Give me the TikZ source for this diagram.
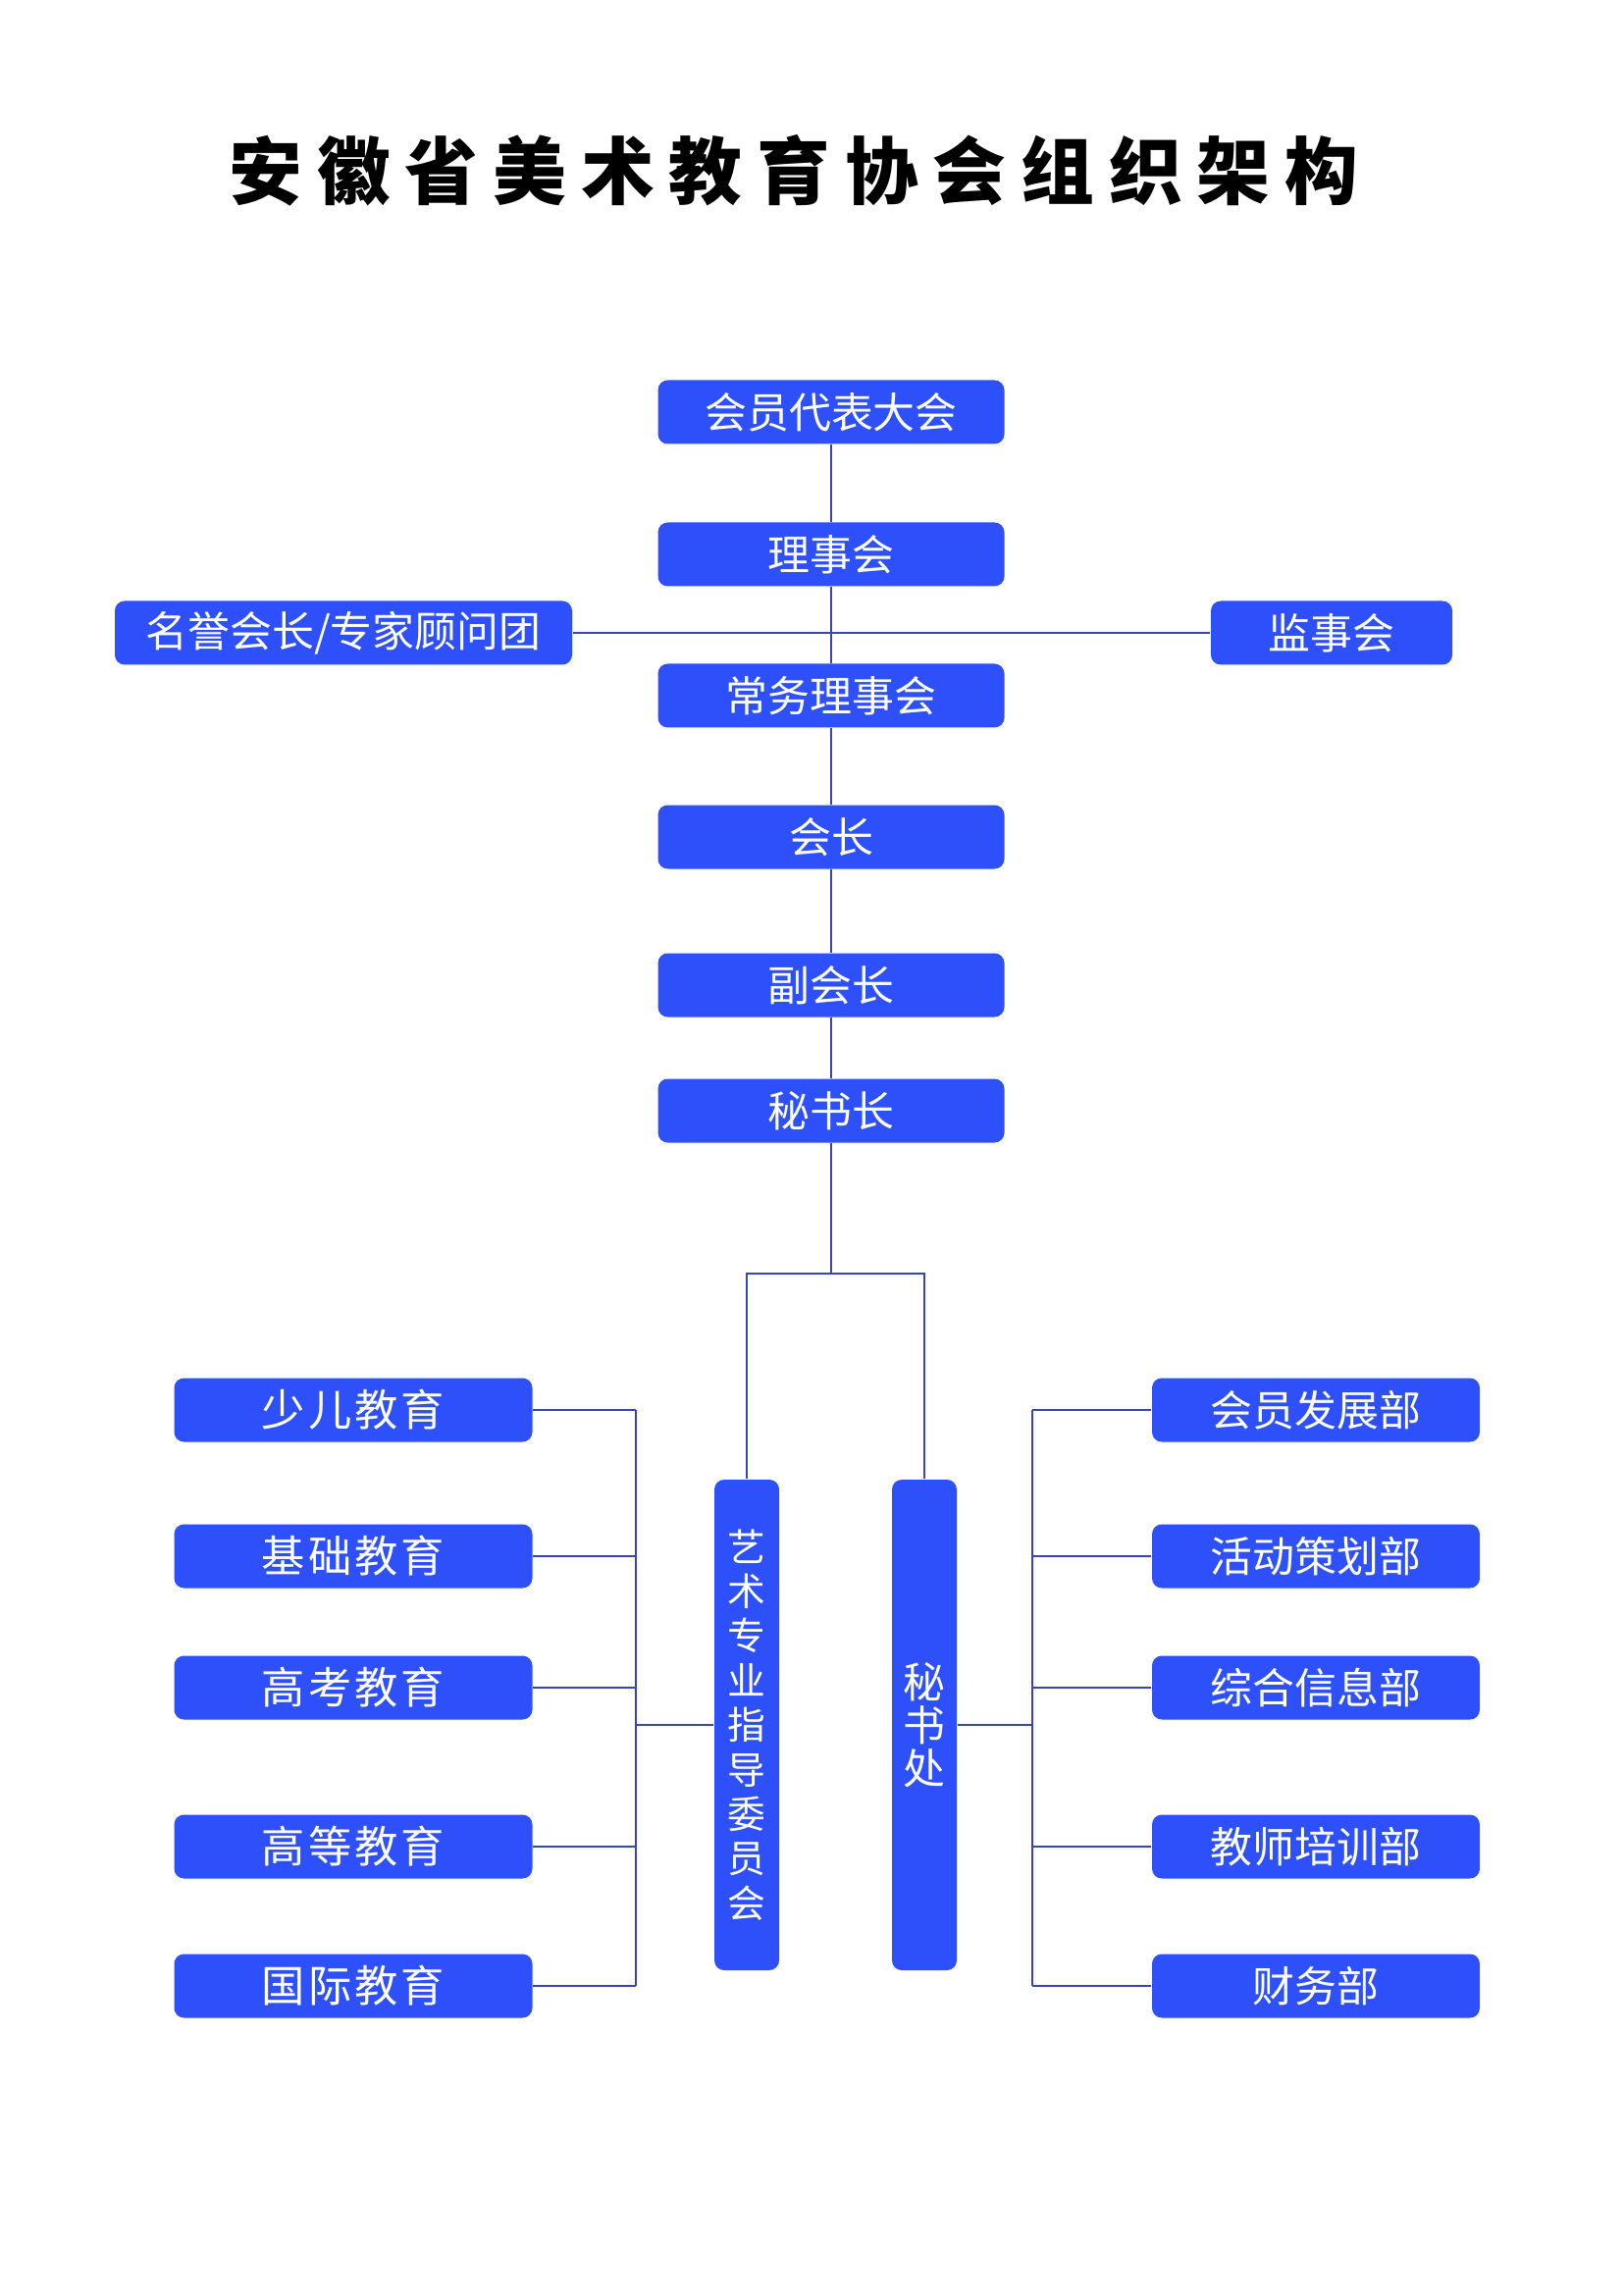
\documentclass[tikz,border=0pt]{standalone}
\usepackage{fontspec}
\newfontfamily\cjk{Noto Sans CJK SC}
\newfontfamily\cjkwide[LetterSpace=7]{Noto Sans CJK SC}
\newfontfamily\cjktitle[LetterSpace=20]{Noto Sans CJK SC}
\newlength\px
\setlength\px{0.127mm}
\definecolor{boxblue}{HTML}{2E50FA}
\definecolor{linkblue}{HTML}{3646B4}
\tikzset{
        box/.style={fill=boxblue, text=white, rounded corners=10\px, minimum height=65\px,
                inner sep=0pt, font=\cjk\fontsize{15.5}{18}\selectfont},
        lbox/.style={box, minimum width=365\px, font=\cjkwide\fontsize{16}{18}\selectfont},
        rbox/.style={box, minimum width=334\px},
        vbox/.style={box, minimum width=66\px, minimum height=500\px, align=center},
        link/.style={draw=linkblue, line width=0.6pt},
        title/.style={font=\cjktitle\bfseries\fontsize{27}{30}\selectfont}
        }
\begin{document}
\begin{tikzpicture}[x=\px, y=-\px]
        \useasboundingbox (0,0) rectangle (1654,2339);
        \node[title] (t) at (809,174) {安徽省美术教育协会组织架构};
        % main column
        \node[box, minimum width=353\px] (m1) at (847,420) {会员代表大会};
        \node[box, minimum width=353\px] (m2) at (847,565) {理事会};
        \node[box, minimum width=353\px] (m3) at (847,709) {常务理事会};
        \node[box, minimum width=353\px] (m4) at (847,853) {会长};
        \node[box, minimum width=353\px] (m5) at (847,1004) {副会长};
        \node[box, minimum width=353\px] (m6) at (847,1132) {秘书长};
        \node[box, minimum width=466\px] (hon) at (350,645) {名誉会长/专家顾问团};
        \node[box, minimum width=246\px] (sup) at (1357,645) {监事会};
        % two branches
        \node[vbox, font=\cjk\fontsize{14}{16.4}\selectfont] (art) at (761,1758)
                {艺\\术\\专\\业\\指\\导\\委\\员\\会};
        \node[vbox, font=\cjk\fontsize{15.5}{15.8}\selectfont] (sec) at (942,1758) {秘\\书\\处};
        \foreach \name/\y [count=\i] in {少儿教育/1437, 基础教育/1586, 高考教育/1720, 高等教育/1882, 国际教育/2024}
                \node[lbox] (l\i) at (360,\y) {\name};
        \foreach \name/\y [count=\i] in {会员发展部/1437, 活动策划部/1586, 综合信息部/1720, 教师培训部/1882, 财务部/2024}
                \node[rbox] (r\i) at (1341,\y) {\name};
        \coordinate (fork) at (847,1298);
        \coordinate (lb) at (648,1437);
        \coordinate (rb) at (1052,1437);
        % connectors
        \draw[link] (m1) -- (m2) (m2) -- (m3) (m3) -- (m4) (m4) -- (m5) (m5) -- (m6);
        \draw[link] (hon) -- (sup);
        \draw[link] (m6) -- (fork);
        \draw[link] (art) |- (fork) -| (sec);
        \foreach \i in {1,...,5} {
                \draw[link] (l\i) -- (l\i -| lb);
                \draw[link] (r\i) -- (r\i -| rb);
        }
        \draw[link] (l1 -| lb) -- (l5 -| lb) (art) -- (art -| lb);
        \draw[link] (r1 -| rb) -- (r5 -| rb) (sec) -- (sec -| rb);
\end{tikzpicture}
\end{document}
